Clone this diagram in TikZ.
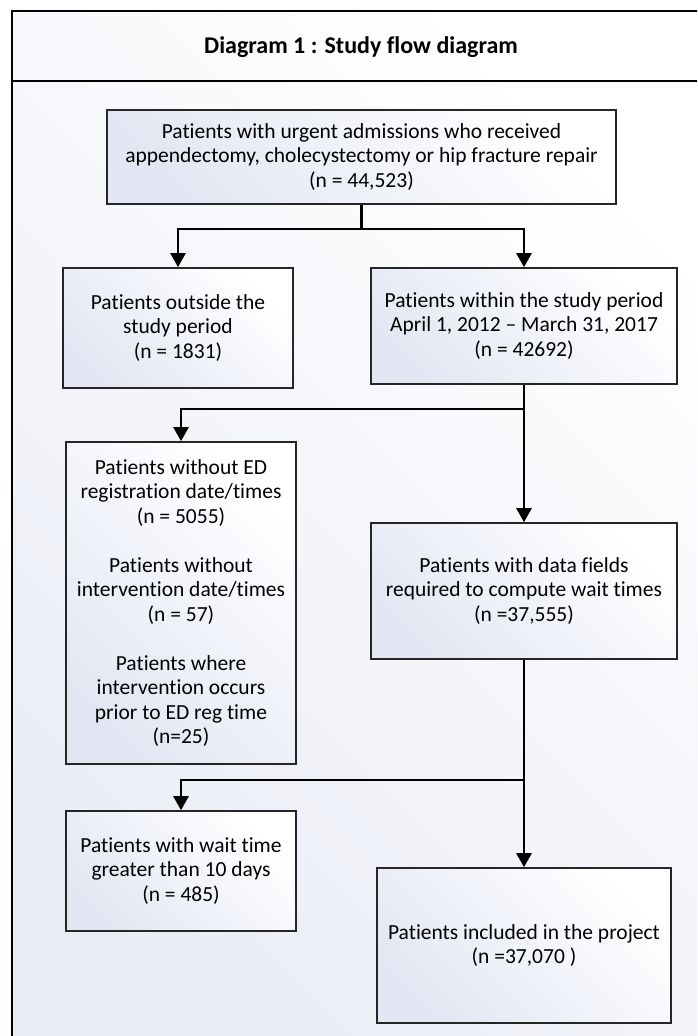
\documentclass[tikz,border=0pt]{standalone}
\usepackage{fontspec}
\setmainfont{Carlito}[Ligatures=NoCommon]
\usetikzlibrary{arrows.meta}

\definecolor{boxtint}{RGB}{226,231,243}
\definecolor{pagetint}{RGB}{234,237,245}

\begin{document}
\begin{tikzpicture}[
    x=1pt, y=-1pt,
    font=\fontsize{21.5}{24.5}\selectfont,
    flow/.style={-{Triangle[width=15pt,length=14pt]}, line width=2.4pt, draw=black},
    % Box styles
    box/.style={draw=black!85, line width=1.6pt, align=center, inner sep=0pt, top color=boxtint, bottom color=white, shading angle=135},
    box wide/.style={minimum width=509pt, minimum height=94pt},
    box narrow/.style={minimum width=230pt},
    box broad/.style={minimum width=306pt},
    % Other styles
    frame/.style={line width=1.6pt, draw=black},
    titleText/.style={font=\fontsize{24}{28}\selectfont\bfseries}
]

\useasboundingbox (0,0) rectangle (697,1036);
\clip (0,0) rectangle (697,1036);

% --- Frame ---
\shade[top color=pagetint, bottom color=white, shading angle=135] (12,11) rectangle (720,1060);
\draw[frame] (12,1060) -- (12,11) -- (720,11);
\draw[frame] (12,81) -- (720,81);
\node[titleText] (title) at (361,47) {Diagram 1 : Study flow diagram};

% --- Boxes ---
\node[box, box wide] (admit) at (361.5,157) {Patients with urgent admissions who received\\appendectomy, cholecystectomy or hip fracture repair\\(n = 44,523)};
\node[box, box narrow, minimum height=120pt] (outside) at (178,328) {Patients outside the\\study period\\(n = 1831)};
\node[box, box broad, minimum height=116pt] (within) at (524,326) {Patients within the study period\\April 1, 2012 -- March 31, 2017\\(n = 42692)};
\node[box, box narrow, minimum height=322pt] (missing) at (181,603) {Patients without ED\\registration date/times\\(n = 5055)\\[24.5pt] Patients without\\intervention date/times\\(n = 57)\\[24.5pt] Patients where\\intervention occurs\\prior to ED reg time\\(n=25)};
\node[box, box broad, minimum height=136pt] (fields) at (524,591) {Patients with data fields\\required to compute wait times\\(n =37,555)};
\node[box, box narrow, minimum height=120pt] (wait) at (181,871) {Patients with wait time\\greater than 10 days\\(n = 485)};
\node[box, minimum width=294pt, minimum height=155pt] (included) at (524,945.5) {Patients included in the project\\(n =37,070 )};

% --- Connectors ---
\draw[flow] (admit.south) -- ++(0,24) -| (outside.north);
\draw[flow] (admit.south) -- ++(0,24) -| (within.north);
\draw[flow] (within.south) -- (fields.north);
\draw[flow] (within.south) -- ++(0,24) -| (missing.north);
\draw[flow] (fields.south) -- (included.north);
\draw[flow] (fields.south) -- ++(0,120) -| (wait.north);

\end{tikzpicture}
\end{document}
